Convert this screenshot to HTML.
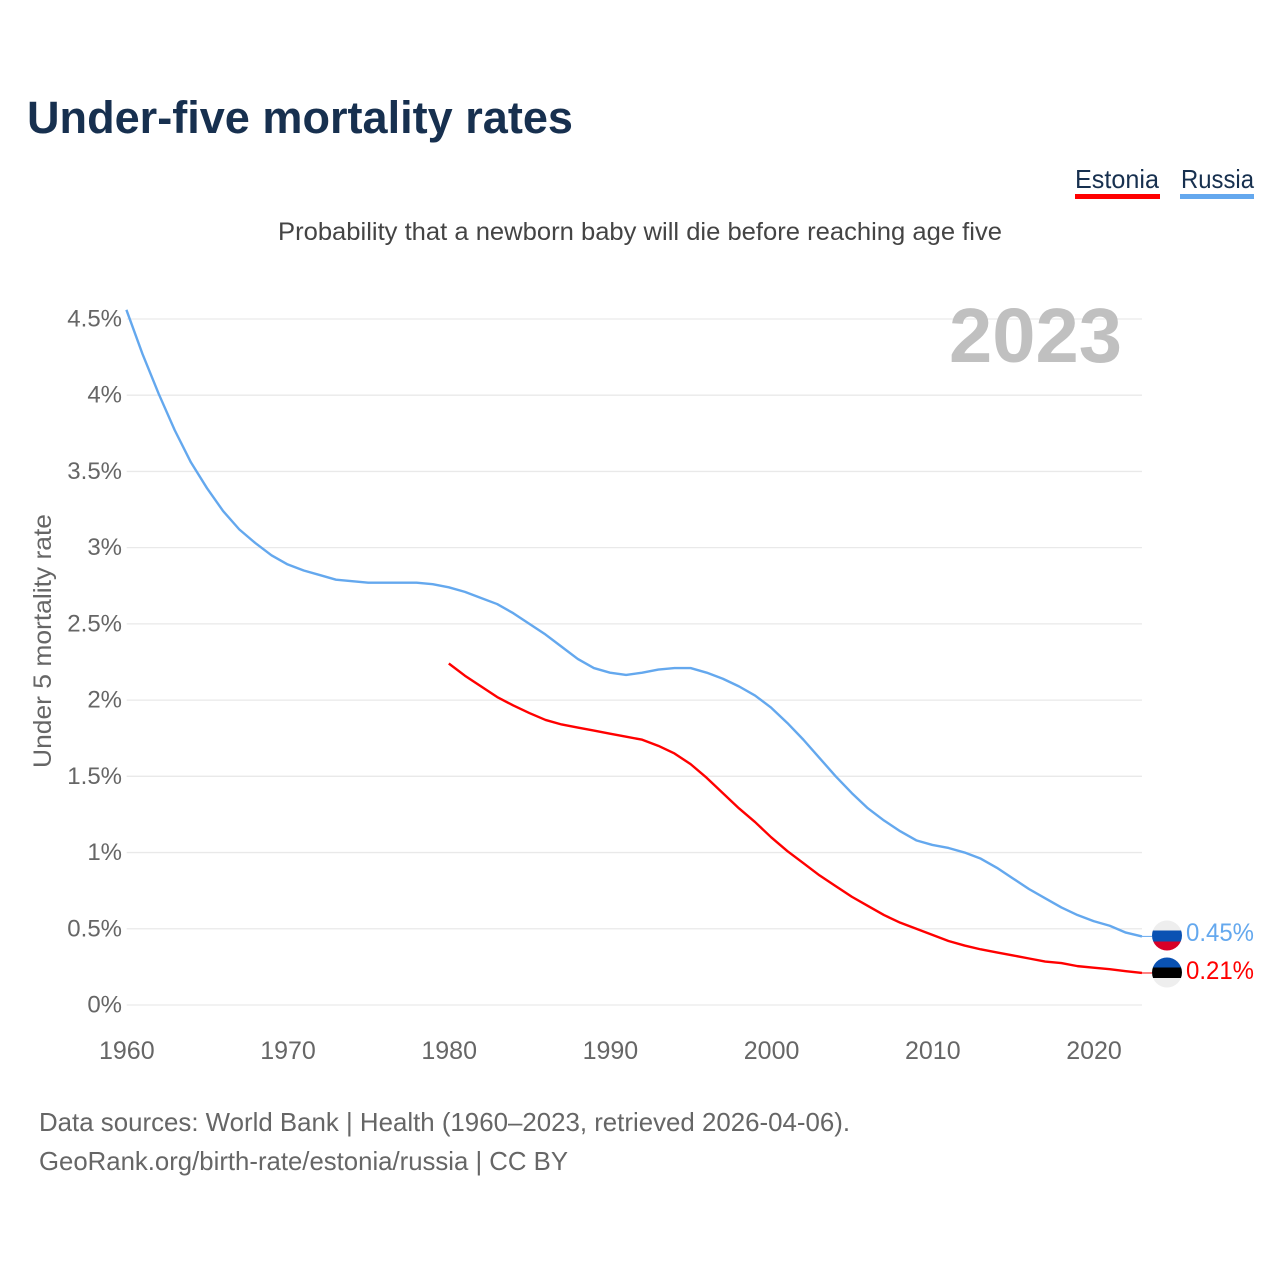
<!DOCTYPE html>
<html lang="en">
<head>
<meta charset="utf-8">
<title>Under-five mortality rates</title>
<style>
html,body{margin:0;padding:0;background:#fff;width:1280px;height:1280px;overflow:hidden}
svg{display:block;font-family:"Liberation Sans",sans-serif}
</style>
</head>
<body>
<svg id="chart" xmlns="http://www.w3.org/2000/svg" width="1280" height="1280" viewBox="0 0 1280 1280">
  <rect x="0" y="0" width="1280" height="1280" fill="#fff"/>
  <text x="27" y="133" font-size="45" font-weight="700" fill="#17304f" textLength="546" lengthAdjust="spacingAndGlyphs">Under-five mortality rates</text>
  <text x="278" y="240" font-size="25" fill="#444" textLength="724" lengthAdjust="spacingAndGlyphs">Probability that a newborn baby will die before reaching age five</text>

  <g>
    <text x="1075" y="188" font-size="26" fill="#17304f" textLength="84" lengthAdjust="spacingAndGlyphs">Estonia</text>
    <rect x="1075" y="194" width="85" height="5" fill="#ff0000"/>
  </g>
  <g>
    <text x="1181" y="188" font-size="26" fill="#17304f" textLength="73" lengthAdjust="spacingAndGlyphs">Russia</text>
    <rect x="1180" y="194" width="74" height="5" fill="#64a8ee"/>
  </g>

  <g id="grid"></g>
  <g id="y-ticks"></g>
  <g id="x-ticks"></g>
  <text transform="translate(51,768) rotate(-90)" font-size="25" fill="#666" textLength="254" lengthAdjust="spacingAndGlyphs">Under 5 mortality rate</text>
  <text x="1122" y="362" text-anchor="end" font-size="77" font-weight="700" fill="#c0c0c0" textLength="173" lengthAdjust="spacingAndGlyphs">2023</text>

  <g id="series"></g>

  <defs>
    <clipPath id="clip-ru"><circle cx="1167" cy="935.5" r="15"/></clipPath>
    <clipPath id="clip-ee"><circle cx="1167" cy="972.5" r="15"/></clipPath>
  </defs>
  <g clip-path="url(#clip-ru)">
    <rect x="1152" y="920" width="30" height="10.5" fill="#eeeeee"/>
    <rect x="1152" y="930.5" width="30" height="11" fill="#0a52b3"/>
    <rect x="1152" y="941.5" width="30" height="10" fill="#d80027"/>
  </g>
  <g clip-path="url(#clip-ee)">
    <rect x="1152" y="957" width="30" height="10.5" fill="#0a52b3"/>
    <rect x="1152" y="967.5" width="30" height="10.5" fill="#000000"/>
    <rect x="1152" y="978" width="30" height="10" fill="#eeeeee"/>
  </g>
  <text x="1186" y="941" font-size="25" fill="#64a8ee" textLength="68" lengthAdjust="spacingAndGlyphs">0.45%</text>
  <text x="1186" y="979" font-size="25" fill="#ff0000" textLength="68" lengthAdjust="spacingAndGlyphs">0.21%</text>

  <text x="39" y="1131" font-size="26" fill="#666" textLength="811" lengthAdjust="spacingAndGlyphs">Data sources: World Bank | Health (1960–2023, retrieved 2026-04-06).</text>
  <text x="39" y="1170" font-size="26" fill="#666" textLength="529" lengthAdjust="spacingAndGlyphs">GeoRank.org/birth-rate/estonia/russia | CC BY</text>
</svg>
<script>
const yTickValues = [0, 0.5, 1, 1.5, 2, 2.5, 3, 3.5, 4, 4.5];
const yTickLabels = ["0%", "0.5%", "1%", "1.5%", "2%", "2.5%", "3%", "3.5%", "4%", "4.5%"];
const xTickValues = [1960, 1970, 1980, 1990, 2000, 2010, 2020];
const xTickLabels = ["1960", "1970", "1980", "1990", "2000", "2010", "2020"];

const russiaStartYear = 1960;
const russiaValues = [
  4.56, 4.27, 4.01, 3.77, 3.56, 3.39, 3.24, 3.12, 3.03, 2.95,
  2.89, 2.85, 2.82, 2.79, 2.78, 2.77, 2.77, 2.77, 2.77, 2.76,
  2.74, 2.71, 2.67, 2.63, 2.57, 2.50, 2.43, 2.35, 2.27, 2.21,
  2.18, 2.165, 2.18, 2.20, 2.21, 2.21, 2.18, 2.14, 2.09, 2.03,
  1.95, 1.85, 1.74, 1.62, 1.50, 1.39, 1.29, 1.21, 1.14, 1.08,
  1.05, 1.03, 1.00, 0.96, 0.90, 0.83, 0.76, 0.70, 0.64, 0.59,
  0.55, 0.52, 0.475, 0.45
];
const estoniaStartYear = 1980;
const estoniaValues = [
  2.24, 2.16, 2.09, 2.02, 1.965, 1.915, 1.87, 1.84, 1.82, 1.80,
  1.78, 1.76, 1.74, 1.70, 1.65, 1.58, 1.49, 1.39, 1.29, 1.20,
  1.10, 1.01, 0.93, 0.85, 0.78, 0.71, 0.65, 0.59, 0.54, 0.50,
  0.46, 0.42, 0.39, 0.365, 0.345, 0.325, 0.305, 0.285, 0.275, 0.255,
  0.245, 0.235, 0.222, 0.21
];

function xScale(year) { return 126.4 + (year - 1960) * (1093.6 - 126.4) / 60; }
function yScale(v) { return 1005 - v * 152.45; }

const NS = "http://www.w3.org/2000/svg";
const grid = document.getElementById("grid");
const yAxis = document.getElementById("y-ticks");
const xAxis = document.getElementById("x-ticks");
const seriesGroup = document.getElementById("series");

yTickValues.forEach(function (v, i) {
  const line = document.createElementNS(NS, "line");
  
  
  line.setAttribute("x1", 126.7);
  line.setAttribute("x2", xScale(2023));
  line.setAttribute("y1", yScale(v));
  line.setAttribute("y2", yScale(v));
  line.setAttribute("stroke", "#e9e9e9");
  line.setAttribute("stroke-width", "1.3");
  grid.appendChild(line);

  const label = document.createElementNS(NS, "text");
  
  
  label.setAttribute("x", 122);
  label.setAttribute("y", yScale(v) + 7.5);
  label.setAttribute("text-anchor", "end");
  label.setAttribute("font-size", "24");
  label.setAttribute("fill", "#666");
  label.textContent = yTickLabels[i];
  yAxis.appendChild(label);
});

xTickValues.forEach(function (year, i) {
  const label = document.createElementNS(NS, "text");
  
  
  label.setAttribute("x", xScale(year) + 0.4);
  label.setAttribute("y", 1059);
  label.setAttribute("text-anchor", "middle");
  label.setAttribute("font-size", "25");
  label.setAttribute("fill", "#666");
  label.textContent = xTickLabels[i];
  xAxis.appendChild(label);
});

function pointsFor(values, startYear) {
  return values.map(function (v, i) {
    return xScale(startYear + i).toFixed(2) + "," + yScale(v).toFixed(2);
  }).join(" ");
}

const russiaLine = document.createElementNS(NS, "polyline");


russiaLine.setAttribute("points", pointsFor(russiaValues, russiaStartYear));
russiaLine.setAttribute("fill", "none");
russiaLine.setAttribute("stroke", "#64a8ee");
russiaLine.setAttribute("stroke-width", "2.4");
russiaLine.setAttribute("stroke-linejoin", "round");
seriesGroup.appendChild(russiaLine);

const estoniaLine = document.createElementNS(NS, "polyline");


estoniaLine.setAttribute("points", pointsFor(estoniaValues, estoniaStartYear));
estoniaLine.setAttribute("fill", "none");
estoniaLine.setAttribute("stroke", "#ff0000");
estoniaLine.setAttribute("stroke-width", "2.4");
estoniaLine.setAttribute("stroke-linejoin", "round");
seriesGroup.appendChild(estoniaLine);

const russiaConnector = document.createElementNS(NS, "line");


russiaConnector.setAttribute("x1", xScale(2023));
russiaConnector.setAttribute("x2", 1152);
russiaConnector.setAttribute("y1", yScale(russiaValues[russiaValues.length - 1]));
russiaConnector.setAttribute("y2", yScale(russiaValues[russiaValues.length - 1]));
russiaConnector.setAttribute("stroke", "#64a8ee");
russiaConnector.setAttribute("stroke-width", "1");
seriesGroup.appendChild(russiaConnector);

const estoniaConnector = document.createElementNS(NS, "line");


estoniaConnector.setAttribute("x1", xScale(2023));
estoniaConnector.setAttribute("x2", 1152);
estoniaConnector.setAttribute("y1", yScale(estoniaValues[estoniaValues.length - 1]));
estoniaConnector.setAttribute("y2", yScale(estoniaValues[estoniaValues.length - 1]));
estoniaConnector.setAttribute("stroke", "#ff0000");
estoniaConnector.setAttribute("stroke-width", "1");
seriesGroup.appendChild(estoniaConnector);
</script>
</body>
</html>
